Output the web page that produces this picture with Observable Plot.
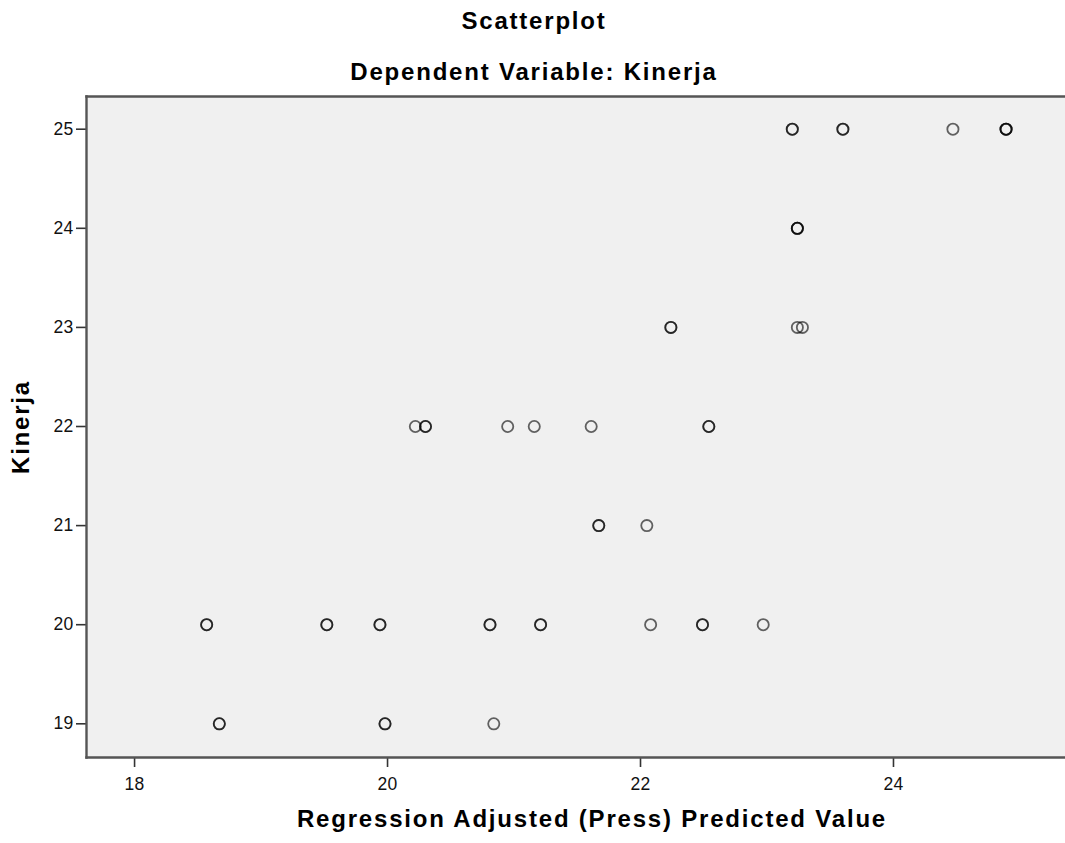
<!DOCTYPE html>
<html>
<head>
<meta charset="utf-8">
<script src="https://cdn.jsdelivr.net/npm/d3@7"></script>
<script src="https://cdn.jsdelivr.net/npm/@observablehq/plot@0.6"></script>
<style>
  html, body { margin: 0; padding: 0; background: #fff; }
  #chart { width: 1065px; height: 843px; }
</style>
</head>
<body>
<div id="chart"></div>
<script>
// Regression Adjusted (Press) Predicted Value (x) and Kinerja (y); repeated pairs = overlapping cases
const predicted = [
  23.20, 23.20, 23.60, 23.60, 24.47, 24.89, 24.89, 24.89,
  23.24, 23.24, 23.24,
  22.24, 22.24, 23.24, 23.28,
  20.22, 20.30, 20.30, 20.95, 21.16, 21.61, 22.54, 22.54,
  21.67, 21.67, 22.05,
  18.57, 18.57, 19.52, 19.52, 19.94, 19.94, 20.81, 20.81, 21.21, 21.21, 22.08, 22.49, 22.49, 22.97,
  18.67, 18.67, 19.98, 19.98, 20.84
];
const kinerja = [
  25, 25, 25, 25, 25, 25, 25, 25,
  24, 24, 24,
  23, 23, 23, 23,
  22, 22, 22, 22, 22, 22, 22, 22,
  21, 21, 21,
  20, 20, 20, 20, 20, 20, 20, 20, 20, 20, 20, 20, 20, 20,
  19, 19, 19, 19, 19
];
const xTicks = [18, 20, 22, 24];
const yTicks = [19, 20, 21, 22, 23, 24, 25];
const titleText = "Scatterplot";
const subtitleText = "Dependent Variable: Kinerja";
const xLabel = "Regression Adjusted (Press) Predicted Value";
const yLabel = "Kinerja";

const data = predicted.map((x, i) => ({x, y: kinerja[i]}));

const W = 1065, H = 843;
const mL = 86, mT = 96, mB = 86, mR = 0;
const FONT = "'Liberation Sans', Arial, Helvetica, sans-serif";

const plot = Plot.plot({
  width: W,
  height: H,
  marginLeft: mL,
  marginTop: mT,
  marginBottom: mB,
  marginRight: mR,
  style: {fontFamily: FONT, background: "#fff", color: "#000", overflow: "visible"},
  x: {domain: [17.62, 25.36]},
  y: {domain: [18.66, 25.33]},
  marks: [
    Plot.frame({fill: "#f0f0f0", stroke: "none"}),
    Plot.axisX({ticks: xTicks, tickSize: 10, tickPadding: 10, fontSize: 17.5, tickFormat: d => String(d), stroke: "#333", strokeWidth: 1.6, fill: "#111", label: null}),
    Plot.axisY({ticks: yTicks, tickSize: 10, tickPadding: 3, fontSize: 17.5, tickFormat: d => String(d), stroke: "#333", strokeWidth: 1.6, fill: "#111", label: null}),
    Plot.frame({anchor: "left", stroke: "#555", strokeWidth: 2.4}),
    Plot.frame({anchor: "top", stroke: "#555", strokeWidth: 2.4}),
    Plot.frame({anchor: "bottom", stroke: "#555", strokeWidth: 2.4}),
    Plot.dot(data, {x: "x", y: "y", r: 5.6, stroke: "#000", strokeOpacity: 0.6, strokeWidth: 1.8, fill: "none"})
  ]
});

document.getElementById("chart").appendChild(plot);

const svg = d3.select(plot);
svg.selectAll("[aria-label='x-axis tick label'] text, [aria-label='y-axis tick label'] text")
  .style("letter-spacing", "0.3px");

function addText(text, x, y, opts = {}) {
  const t = svg.append("text")
    .attr("x", x).attr("y", y)
    .attr("text-anchor", "middle")
    .style("font-family", FONT)
    .style("font-weight", "bold")
    .style("font-size", (opts.size || 24) + "px")
    .style("letter-spacing", (opts.ls ?? 1.8) + "px")
    .attr("fill", "#000")
    .text(text);
  if (opts.rotate) t.attr("transform", `rotate(${opts.rotate} ${x} ${y})`);
  return t;
}
addText(titleText, 534, 29);
addText(subtitleText, 534, 80);
addText(xLabel, 592, 827, {ls: 1.8});
addText(yLabel, 29, 427, {rotate: -90});
</script>
</body>
</html>
